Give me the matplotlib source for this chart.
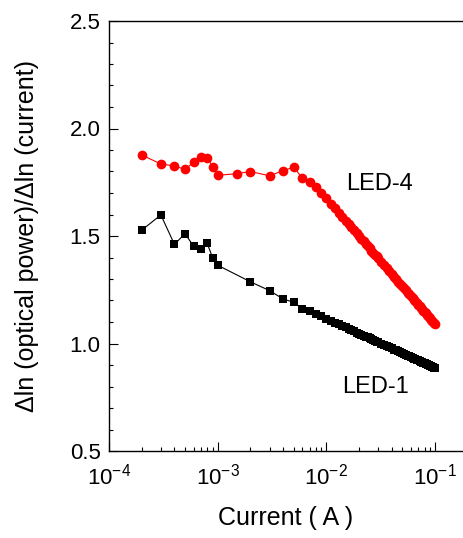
import matplotlib
matplotlib.use("Agg")
import matplotlib.pyplot as plt
from matplotlib.ticker import LogLocator, MultipleLocator, NullFormatter, LogFormatterMathtext

plt.rcParams['font.family'] = ['Liberation Sans', 'DejaVu Sans']
plt.rcParams['mathtext.fontset'] = 'custom'
plt.rcParams['mathtext.rm'] = 'Liberation Sans'
plt.rcParams['mathtext.it'] = 'Liberation Sans:italic'
plt.rcParams['mathtext.bf'] = 'Liberation Sans:bold'

# ---------------- data ----------------
dense_ma = [11, 12, 13, 14, 15, 16, 17, 18, 19, 20, 21, 22, 23, 24, 25, 26, 27, 28, 29, 30,
            32, 34, 36, 38, 40, 42, 44, 46, 48, 50, 52, 54, 56, 58, 60, 62, 64, 66, 68, 70,
            72, 74, 76, 78, 80, 82, 84, 86, 88, 90, 92, 94, 96, 98, 100]

led4_current = ([2e-4, 3e-4, 4e-4, 5e-4, 6e-4, 7e-4, 8e-4, 9e-4, 1e-3, 1.5e-3, 2e-3, 3e-3,
                 4e-3, 5e-3, 6e-3, 7e-3, 8e-3, 9e-3, 1e-2] + [m / 1000 for m in dense_ma])
led4_slope = [1.877, 1.835, 1.826, 1.810, 1.843, 1.866, 1.864, 1.822, 1.782, 1.790, 1.800, 1.780,
              1.804, 1.820, 1.770, 1.750, 1.730, 1.700, 1.675,
              1.651, 1.629, 1.608, 1.590, 1.572, 1.556, 1.540, 1.526, 1.512, 1.499,
              1.487, 1.475, 1.463, 1.453, 1.442, 1.432, 1.423, 1.413, 1.405, 1.396,
              1.380, 1.364, 1.350, 1.336, 1.323, 1.310, 1.299, 1.287, 1.277, 1.266,
              1.256, 1.247, 1.237, 1.228, 1.220, 1.211, 1.203, 1.196, 1.188, 1.181,
              1.174, 1.167, 1.160, 1.153, 1.147, 1.140, 1.134, 1.128, 1.122, 1.117,
              1.111, 1.106, 1.100, 1.095, 1.090]

led1_current = ([2e-4, 3e-4, 4e-4, 5e-4, 6e-4, 7e-4, 8e-4, 9e-4, 1e-3, 2e-3, 3e-3,
                 4e-3, 5e-3, 6e-3, 7e-3, 8e-3, 9e-3, 1e-2] + [m / 1000 for m in dense_ma])
led1_slope = [1.527, 1.598, 1.461, 1.511, 1.453, 1.440, 1.466, 1.398, 1.364, 1.287, 1.246,
              1.207, 1.192, 1.162, 1.150, 1.137, 1.126, 1.115,
              1.106, 1.097, 1.089, 1.082, 1.075, 1.068, 1.062, 1.057, 1.051, 1.046,
              1.041, 1.037, 1.032, 1.028, 1.024, 1.020, 1.016, 1.013, 1.009, 1.006,
              0.999, 0.993, 0.988, 0.982, 0.977, 0.972, 0.968, 0.963, 0.959, 0.955,
              0.951, 0.947, 0.944, 0.940, 0.937, 0.934, 0.930, 0.927, 0.924, 0.922,
              0.919, 0.916, 0.913, 0.911, 0.908, 0.906, 0.903, 0.901, 0.899, 0.897,
              0.894, 0.892, 0.890, 0.888, 0.886]

# ---------------- plot ----------------
fig = plt.figure(figsize=(4.63, 5.38), dpi=100)
ax = fig.add_axes([109 / 463, 1 - 451 / 538, 1 - 109 / 463, (451 - 21) / 538])

ax.plot(led4_current, led4_slope, '-o', color='#ff0000', markersize=7, linewidth=0.8,
        markeredgewidth=0)
ax.plot(led1_current, led1_slope, '-s', color='black', markersize=5.5, linewidth=0.8,
        markeredgewidth=0)

ax.set_xscale('log')
ax.set_xlim(1e-4, 0.1807)
ax.set_ylim(0.5, 2.5)

ax.xaxis.set_major_locator(LogLocator(base=10, numticks=10))
ax.xaxis.set_minor_locator(LogLocator(base=10, subs=range(2, 10), numticks=20))
ax.xaxis.set_minor_formatter(NullFormatter())
ax.xaxis.set_major_formatter(LogFormatterMathtext())
ax.yaxis.set_major_locator(MultipleLocator(0.5))
ax.yaxis.set_minor_locator(MultipleLocator(0.1))
ax.yaxis.set_major_formatter(plt.FuncFormatter(lambda v, p: f"{v:.1f}"))

ax.spines['right'].set_visible(False)
for s in ['left', 'bottom', 'top']:
    ax.spines[s].set_linewidth(1.0)

ax.tick_params(which='major', direction='in', length=6.5, width=0.8, labelsize=16,
               top=False, right=False)
ax.tick_params(which='minor', direction='in', length=3, width=0.8, top=False, right=False)
ax.tick_params(axis='x', which='major', pad=9)
ax.tick_params(axis='y', which='major', pad=6)

ax.set_xlabel('Current ( A )', fontsize=18, va='center')
ax.set_ylabel('\u0394ln (optical power)/\u0394ln (current)', fontsize=18, va='center')
ax.xaxis.set_label_coords(0.5, (451 - 518) / 430)
ax.yaxis.set_label_coords((27 - 109) / 354, 0.5)

ax.text(0.031, 1.742, 'LED-4', fontsize=17, ha='center', va='center')
ax.text(0.0286, 0.798, 'LED-1', fontsize=17, ha='center', va='center')

fig.savefig('out.png', dpi=100)
